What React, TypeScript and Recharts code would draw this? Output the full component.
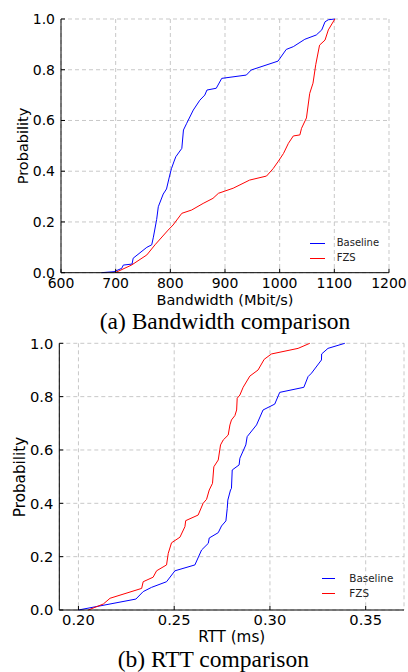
import { LineChart, Line, XAxis, YAxis, CartesianGrid } from 'recharts';

// (a) bandwidth CDF, x in Mbit/s
const bwBaselineX = [674, 697, 711, 714, 730, 732, 757, 766, 769, 775, 778, 787, 793, 799, 802, 807, 810, 821, 824, 830, 842, 854, 863, 867, 884, 894, 939, 948, 997, 1012, 1025, 1046, 1067, 1077, 1083, 1089, 1101];
const bwBaselineP = [0, 0.004, 0.017, 0.03, 0.034, 0.057, 0.1, 0.11, 0.14, 0.21, 0.26, 0.31, 0.33, 0.385, 0.41, 0.44, 0.457, 0.49, 0.5625, 0.589, 0.641, 0.68, 0.7, 0.72, 0.727, 0.766, 0.779, 0.799, 0.834, 0.88, 0.891, 0.92, 0.937, 0.957, 0.989, 0.997, 1.0];
const bwFzsX = [699, 729, 757, 772, 796, 805, 821, 839, 860, 878, 888, 915, 945, 976, 988, 997, 1007, 1016, 1025, 1037, 1040, 1049, 1055, 1061, 1066, 1073, 1083, 1089, 1101];
const bwFzsP = [0, 0.03, 0.07, 0.11, 0.168, 0.188, 0.234, 0.247, 0.273, 0.293, 0.313, 0.333, 0.365, 0.381, 0.41, 0.4375, 0.47, 0.51, 0.539, 0.543, 0.569, 0.61, 0.707, 0.747, 0.82, 0.897, 0.917, 0.957, 1.0];
const bwTicks = [600, 700, 800, 900, 1000, 1100, 1200];

// (b) RTT CDF, x in ms
const rttBaselineX = [0.2, 0.23, 0.2338, 0.2382, 0.246, 0.2504, 0.2608, 0.2643, 0.2678, 0.2683, 0.273, 0.2747, 0.277, 0.2777, 0.278, 0.2794, 0.2799, 0.2803, 0.2839, 0.2843, 0.2874, 0.2881, 0.293, 0.2964, 0.3025, 0.3051, 0.3177, 0.3199, 0.3217, 0.3269, 0.327, 0.3303, 0.3391];
const rttBaselineP = [0, 0.041, 0.069, 0.085, 0.106, 0.147, 0.169, 0.225, 0.25, 0.27, 0.29, 0.315, 0.334, 0.381, 0.412, 0.45, 0.456, 0.525, 0.544, 0.569, 0.619, 0.65, 0.694, 0.75, 0.772, 0.816, 0.835, 0.875, 0.888, 0.9375, 0.96, 0.981, 1.0];
const rttFzsX = [0.2051, 0.213, 0.2165, 0.233, 0.2338, 0.239, 0.2408, 0.246, 0.2469, 0.2486, 0.253, 0.2556, 0.256, 0.2625, 0.2651, 0.2669, 0.2683, 0.27, 0.2707, 0.273, 0.2742, 0.2756, 0.2782, 0.2791, 0.2799, 0.2817, 0.2826, 0.2829, 0.2843, 0.286, 0.2895, 0.2938, 0.297, 0.3008, 0.3147, 0.3208];
const rttFzsP = [0, 0.0225, 0.044, 0.081, 0.106, 0.123, 0.147, 0.169, 0.2125, 0.252, 0.273, 0.3125, 0.335, 0.356, 0.4, 0.415, 0.45, 0.475, 0.537, 0.5625, 0.619, 0.6375, 0.656, 0.694, 0.7125, 0.729, 0.75, 0.794, 0.806, 0.835, 0.877, 0.9, 0.94, 0.96, 0.981, 1.0];
const rttTicks = [0.2, 0.25, 0.3, 0.35];

const probTicks = [0, 0.2, 0.4, 0.6, 0.8, 1.0];
const seriesNames = ['Baseline', 'FZS'];
const seriesColors = ['#0000ff', '#ff0000'];

const zip = (xs: number[], ps: number[]) => xs.map((x, i) => ({ x, p: ps[i] }));

const sans = '"DejaVu Sans", sans-serif';

function Panel(props: any) {
  const { top, plotLeft, plotTop, plotRight, plotBottom, xDomain, xTicks, xDigits, series,
    fontSize, titleSize, xTitle, xTitleX, xTitleY, yTitleX, caption, captionX, captionY,
    legendLineX, legendTextX, legendY, legendSize } = props;
  const h = plotBottom + 22;
  const tickStyle = { fontSize, fill: '#000', fontFamily: sans };
  return (
    <div style={{ position: 'absolute', left: 0, top, width: 408, height: h + 60 }}>
      <LineChart width={408} height={h} margin={{ top: plotTop, right: 408 - plotRight, left: 0, bottom: 0 }}>
        <CartesianGrid stroke="#c8c8c8" strokeDasharray="4 3" />
        <XAxis dataKey="x" type="number" domain={xDomain} ticks={xTicks} allowDataOverflow
          height={h - plotBottom} stroke="#000" tickSize={-4} tickMargin={9}
          tick={tickStyle} tickFormatter={(v: number) => v.toFixed(xDigits)} interval={0} />
        <XAxis xAxisId="top" orientation="top" type="number" domain={xDomain} ticks={xTicks}
          height={0} stroke="#000" tickSize={-4} tick={false} interval={0} />
        <YAxis type="number" domain={[0, 1]} ticks={probTicks} width={plotLeft} stroke="#000"
          tickSize={-4} tickMargin={10} tick={tickStyle} tickFormatter={(v: number) => v.toFixed(1)} interval={0} />
        <YAxis yAxisId="right" orientation="right" type="number" domain={[0, 1]} ticks={probTicks}
          width={0} stroke="#000" tickSize={-4} tick={false} interval={0} />
        {series.map((s: any, i: number) => (
          <Line key={seriesNames[i]} data={s} dataKey="p" type="linear" stroke={seriesColors[i]}
            strokeWidth={1} dot={false} isAnimationActive={false} />
        ))}
      </LineChart>
      <div style={{ position: 'absolute', left: xTitleX, top: xTitleY, transform: 'translate(-50%, -50%)',
        fontFamily: sans, fontSize: titleSize, whiteSpace: 'nowrap', lineHeight: 0.9 }}>{xTitle}</div>
      <div style={{ position: 'absolute', left: yTitleX, top: (plotTop + plotBottom) / 2,
        transform: 'translate(-50%, -50%) rotate(-90deg)', fontFamily: sans, fontSize: titleSize,
        whiteSpace: 'nowrap', lineHeight: 1 }}>Probability</div>
      {seriesNames.map((name, i) => (
        <div key={name}>
          <div style={{ position: 'absolute', left: legendLineX[0], width: legendLineX[1] - legendLineX[0],
            top: Math.round(legendY[i]), height: 1, background: seriesColors[i] }} />
          <div style={{ position: 'absolute', left: legendTextX, top: legendY[i], transform: 'translateY(-50%)',
            fontFamily: sans, fontSize: legendSize, color: '#222', lineHeight: 1 }}>{name}</div>
        </div>
      ))}
      <div style={{ position: 'absolute', left: captionX, top: captionY, transform: 'translate(-50%, -50%)',
        fontFamily: '"Liberation Serif", serif', fontSize: 23.5, whiteSpace: 'nowrap', lineHeight: 0.82 }}>{caption}</div>
    </div>
  );
}

export default function App() {
  return (
    <div style={{ position: 'absolute', left: 0, top: 0, width: 408, height: 672, background: '#fff', overflow: 'hidden' }}>
      <Panel top={0} plotLeft={61} plotTop={19} plotRight={389} plotBottom={272.7}
        xDomain={[600, 1200]} xTicks={bwTicks} xDigits={0}
        series={[zip(bwBaselineX, bwBaselineP), zip(bwFzsX, bwFzsP)]}
        fontSize={14} titleSize={14.5} xTitle="Bandwidth (Mbit/s)" xTitleX={225} xTitleY={301}
        yTitleX={22.5} caption="(a) Bandwidth comparison" captionX={225} captionY={321.5}
        legendLineX={[310, 325]} legendTextX={336.7} legendY={[243.3, 258.3]} legendSize={10} />
      <Panel top={320} plotLeft={59.3} plotTop={23.3} plotRight={404} plotBottom={290}
        xDomain={[0.19, 0.37]} xTicks={rttTicks} xDigits={2}
        series={[zip(rttBaselineX, rttBaselineP), zip(rttFzsX, rttFzsP)]}
        fontSize={14.7} titleSize={15.2} xTitle="RTT (ms)" xTitleX={231.7} xTitleY={318}
        yTitleX={21} caption="(b) RTT comparison" captionX={213.3} captionY={339.5}
        legendLineX={[321.7, 335]} legendTextX={349.3} legendY={[258.3, 273.3]} legendSize={10.4} />
    </div>
  );
}
